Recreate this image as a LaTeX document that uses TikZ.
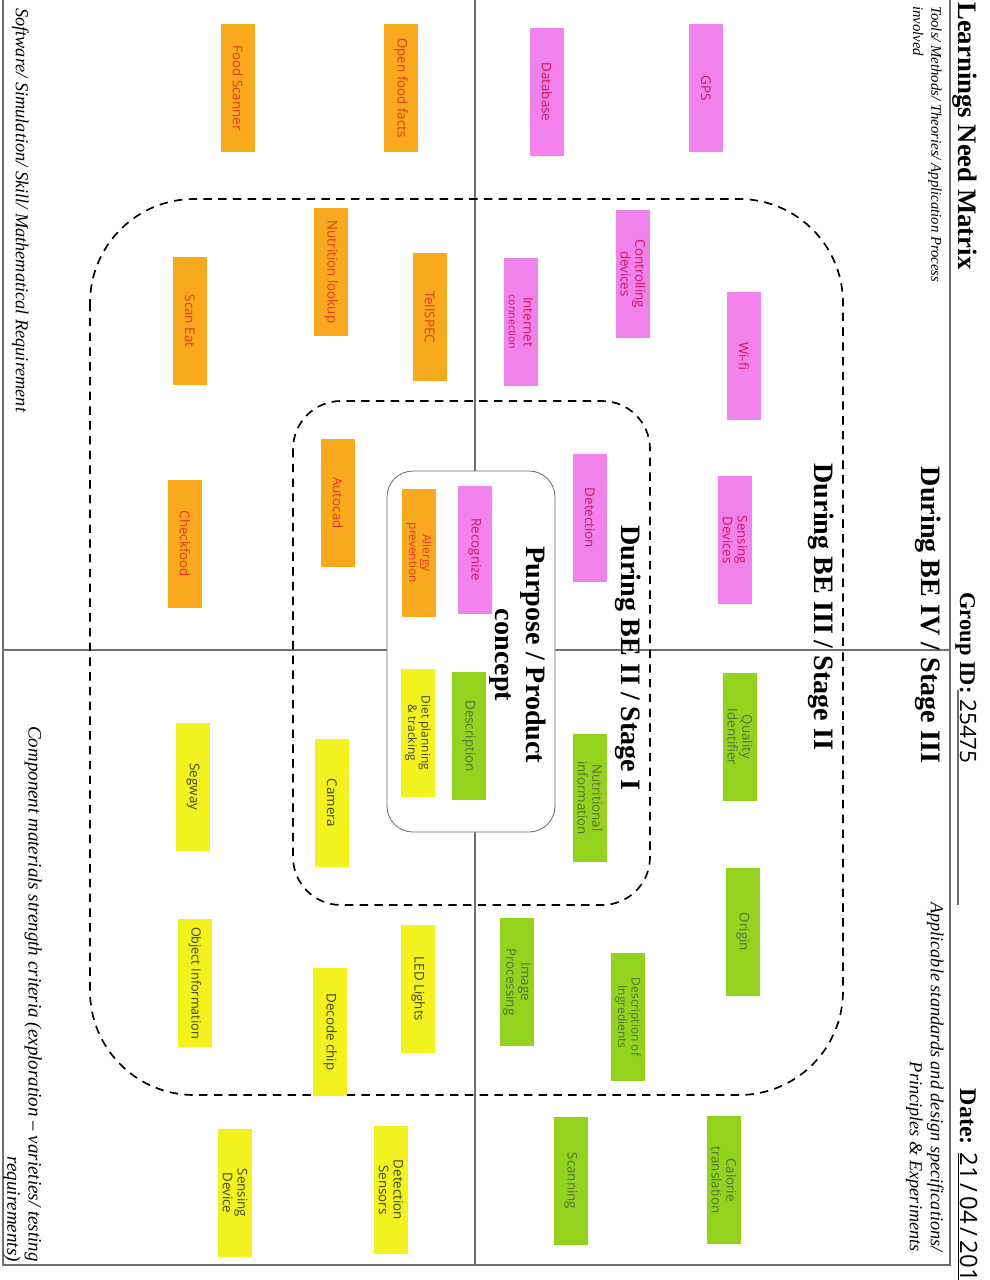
\documentclass[tikz,border=0pt]{standalone}
\usepackage{fontspec}
\setmainfont{Liberation Serif}
\newfontfamily\handfont{Open Sans}
\usetikzlibrary{positioning}
\definecolor{noteorange}{HTML}{F8A91E}
\definecolor{notepink}{HTML}{F282EB}
\definecolor{notegreen}{HTML}{93D31E}
\definecolor{noteyellow}{HTML}{F4F21E}
\definecolor{inkred}{HTML}{E2381E}
\definecolor{inkpink}{HTML}{D0145C}
\definecolor{inkgreen}{HTML}{56703C}
\definecolor{inkdark}{HTML}{384818}
\definecolor{gridgray}{HTML}{6E6E74}
\tikzset{
  sticky/.style={rotate=-90, minimum width=3.2cm, minimum height=0.84cm, inner sep=0.5pt, align=center,
    font=\handfont\fontsize{9.5}{10.5}\selectfont, fill=#1},
  orangenote/.style={sticky=noteorange, text=inkred},
  pinknote/.style={sticky=notepink, text=inkpink},
  greennote/.style={sticky=notegreen, text=inkgreen},
  yellownote/.style={sticky=noteyellow, text=inkdark},
  stagebox/.style={draw, line width=1.2pt, dash pattern=on 6pt off 4.5pt},
  stagetitle/.style={rotate=-90, inner sep=0pt, align=center, font=\bfseries\fontsize{20}{22}\selectfont},
  quadlabel/.style={rotate=-90, inner sep=0pt, font=\itshape\fontsize{13}{15}\selectfont},
  rule/.style={gridgray, line width=0.8pt},
}

\begin{document}
\begin{tikzpicture}[x=0.025cm, y=-0.025cm]
  \useasboundingbox (0,0) rectangle (990,1280);
  % sheet frame and quadrants
  \draw[rule] (3,0) -- (3,1265) -- (950,1265) -- (950,0);
  \draw[rule] (475,0) -- (475,1265);
  \draw[rule] (3,650) -- (950,650);
  \draw[rule] (958,690) -- (958,905);

  % header
  \node[rotate=-90, anchor=west, inner sep=0pt, font=\bfseries\fontsize{19}{21}\selectfont] (title) at (965,2) {Learnings Need Matrix};
  \node[rotate=-90, anchor=base west, inner sep=0pt, font=\bfseries\fontsize{16}{18}\selectfont] (group) at (960,592) {Group ID: {\handfont\mdseries 25475}};
  \node[rotate=-90, anchor=base east, inner sep=0pt, font=\bfseries\fontsize{17}{19}\selectfont] (date) at (960,1282) {Date: {\handfont\mdseries\underline{21\,/\,04\,/\,201}}};

  % quadrant labels
  \node[quadlabel, anchor=north west, align=left, font=\itshape\fontsize{10.5}{13}\selectfont] (tools) at (942,6) {Tools/ Methods/ Theories/ Application Process\\involved};
  \node[quadlabel, anchor=north east, align=right, font=\itshape\fontsize{13}{15}\selectfont] (standards) at (944,1252) {Applicable standards and design specifications/\\Principles \& Experiments};
  \node[quadlabel, anchor=north west] (software) at (29,8) {Software/ Simulation/ Skill/ Mathematical Requirement};
  \node[quadlabel, anchor=north east, align=right, font=\itshape\fontsize{13.5}{15}\selectfont] (component) at (42,1262) {Component materials strength criteria (exploration -- varieties/ testing\\requirements)};

  % stage outlines
  \draw[stagebox, rounded corners=2.6cm] (90,199) rectangle (843,1095);
  \draw[stagebox, rounded corners=1.2cm] (293,401) rectangle (650,905);
  \draw[gridgray, line width=0.6pt, fill=white, rounded corners=0.65cm] (387,471) rectangle (555,832);

  \node[stagetitle] (be4) at (928,615) {During BE IV / Stage III};
  \node[stagetitle] (be3) at (821,607) {During BE III / Stage II};
  \node[stagetitle] (be2) at (628,658) {During BE II / Stage I};
  \node[stagetitle] (purpose) at (518,655) {Purpose / Product\\concept};

  % tools quadrant
  \node[orangenote] (foodscan) at (238,88) {Food Scanner};
  \node[orangenote] (openfood) at (401,88) {Open food facts};
  \node[pinknote] (database) at (547,92) {Database};
  \node[pinknote] (gps) at (706,88) {GPS};
  \node[orangenote] (scaneat) at (190,321) {Scan Eat};
  \node[orangenote] (nutrlookup) at (331,272) {Nutrition lookup};
  \node[orangenote] (tellspec) at (430,317) {TellSPEC};
  \node[pinknote] (internet) at (521,322) {Internet\\{\fontsize{7.5}{8}\selectfont connection}};
  \node[pinknote] (controlling) at (633,274) {Controlling\\devices};
  \node[pinknote] (wifi) at (744,356) {Wi-fi};

  % software quadrant
  \node[orangenote] (checkfood) at (185,544) {Checkfood};
  \node[orangenote] (autocad) at (338,503) {Autocad};
  \node[orangenote, font=\handfont\fontsize{8.5}{9.5}\selectfont] (allergy) at (419,553) {Allergy\\prevention};
  \node[pinknote] (recognize) at (475,550) {Recognize};
  \node[pinknote] (detection) at (590,518) {Detection};
  \node[pinknote] (sensdevices) at (735,540) {Sensing\\Devices};

  % component quadrant
  \node[yellownote] (segway) at (193,787) {Segway};
  \node[yellownote] (camera) at (332,803) {Camera};
  \node[yellownote, font=\handfont\fontsize{8.5}{9.5}\selectfont] (diet) at (418,733) {Diet planning\\\& tracking};
  \node[yellownote, font=\handfont\fontsize{9}{10}\selectfont] (objinfo) at (195,983) {Object Information};
  \node[yellownote] (decode) at (330,1032) {Decode chip};
  \node[yellownote] (led) at (418,989) {LED Lights};
  \node[yellownote] (sensdevice) at (235,1193) {Sensing\\Device};
  \node[yellownote] (detsensors) at (391,1190) {Detection\\Sensors};

  % standards quadrant
  \node[greennote] (description) at (469,736) {Description};
  \node[greennote] (nutrinfo) at (590,798) {Nutritional\\information};
  \node[greennote] (quality) at (740,737) {Quality\\Identifier};
  \node[greennote] (imageproc) at (517,982) {Image\\Processing};
  \node[greennote, font=\handfont\fontsize{8.5}{9.5}\selectfont] (ingredients) at (628,1017) {Description of\\Ingredients};
  \node[greennote] (origin) at (743,932) {Origin};
  \node[greennote] (scanning) at (571,1181) {Scanning};
  \node[greennote] (calorie) at (724,1180) {Calorie\\translation};
\end{tikzpicture}
\end{document}
